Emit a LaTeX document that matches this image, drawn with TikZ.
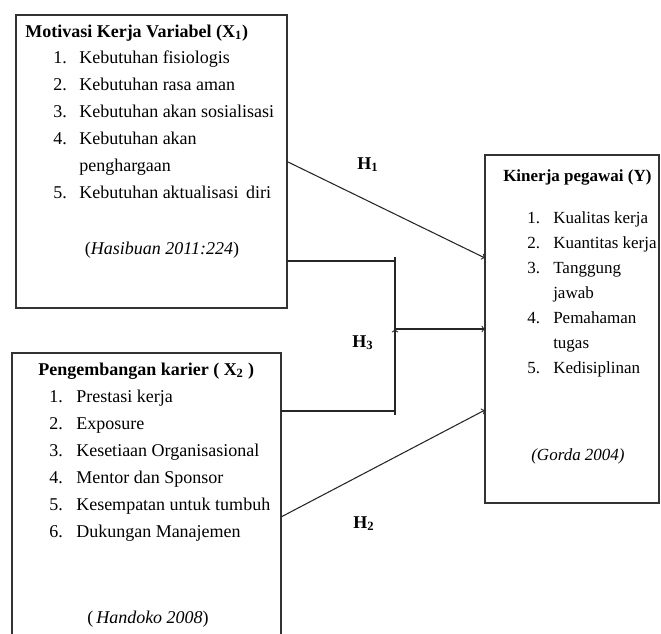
\documentclass[tikz,border=0pt]{standalone}
\usepackage{fontspec}
\setmainfont{Liberation Serif}
\usetikzlibrary{arrows}

\begin{document}
\begin{tikzpicture}[x=0.75pt,y=-0.75pt]
		\useasboundingbox (0,0) rectangle (661,633);
		\clip (0,0) rectangle (661,633);
		\tikzset{
			box/.style={draw=black!80,line width=0.9pt,inner sep=0pt,outer sep=0pt},
			txt/.style={anchor=base west,inner sep=0pt,font=\fontsize{13.5}{16}\selectfont},
			txtsm/.style={anchor=base west,inner sep=0pt,font=\fontsize{12.75}{15}\selectfont},
			cite/.style={anchor=base,inner sep=0pt,font=\fontsize{13.5}{16}\selectfont\itshape},
			hyp/.style={anchor=base west,inner sep=0pt,font=\fontsize{13.5}{16}\selectfont\bfseries}
		}
		% boxes
		\node[box,minimum width=203.25pt,minimum height=219.75pt] (motivasi) at (151.5,161.5) {};
		\node[box,minimum width=201.75pt,minimum height=246pt] (karier) at (146.5,517) {};
		\node[box,minimum width=130.5pt,minimum height=261pt] (kinerja) at (572,329) {};
		%
		% Motivasi kerja (X1)
		\node[txt,font=\fontsize{13.5}{16}\selectfont\bfseries] (m0) at (25,37) {Motivasi Kerja Variabel (X\textsubscript{1})};
		\node[txt] (m1n) at (53,63) {1.};
		\node[txt] (m1) at (79,63) {Kebutuhan fisiologis};
		\node[txt] (m2n) at (53,90) {2.};
		\node[txt] (m2) at (79,90) {Kebutuhan rasa aman};
		\node[txt] (m3n) at (53,117) {3.};
		\node[txt] (m3) at (79,117) {Kebutuhan akan sosialisasi};
		\node[txt] (m4n) at (53,144) {4.};
		\node[txt] (m4) at (79,144) {Kebutuhan akan};
		\node[txt] (m4b) at (79,171) {penghargaan};
		\node[txt] (m5n) at (53,198) {5.};
		\node[txt] (m5) at (79,198) {Kebutuhan aktualisasi\, diri};
		\node[cite] (mc) at (162,254) {\upshape(\itshape Hasibuan 2011:224\upshape)};
		%
		% Pengembangan karier (X2)
		\node[txt,font=\fontsize{13.5}{16}\selectfont\bfseries] (k0) at (38,375) {Pengembangan karier ( X\textsubscript{2} )};
		\node[txt] (k1n) at (49,402) {1.};
		\node[txt] (k1) at (76,402) {Prestasi kerja};
		\node[txt] (k2n) at (49,429) {2.};
		\node[txt] (k2) at (76,429) {Exposure};
		\node[txt] (k3n) at (49,456) {3.};
		\node[txt] (k3) at (76,456) {Kesetiaan Organisasional};
		\node[txt] (k4n) at (49,483) {4.};
		\node[txt] (k4) at (76,483) {Mentor dan Sponsor};
		\node[txt] (k5n) at (49,510) {5.};
		\node[txt] (k5) at (76,510) {Kesempatan untuk tumbuh};
		\node[txt] (k6n) at (49,537) {6.};
		\node[txt] (k6) at (76,537) {Dukungan Manajemen};
		\node[cite] (kc) at (148,623) {\upshape(\,\itshape Handoko 2008\upshape)};
		%
		% Kinerja pegawai (Y)
		\node[txtsm,font=\fontsize{12.75}{15}\selectfont\bfseries] (y0) at (503,181) {Kinerja pegawai (Y)};
		\node[txtsm] (y1n) at (527,223) {1.};
		\node[txtsm] (y1) at (553,223) {Kualitas kerja};
		\node[txtsm] (y2n) at (527,248) {2.};
		\node[txtsm] (y2) at (553,248) {Kuantitas kerja};
		\node[txtsm] (y3n) at (527,273) {3.};
		\node[txtsm] (y3) at (553,273) {Tanggung};
		\node[txtsm] (y3b) at (553,298) {jawab};
		\node[txtsm] (y4n) at (527,323) {4.};
		\node[txtsm] (y4) at (553,323) {Pemahaman};
		\node[txtsm] (y4b) at (553,348) {tugas};
		\node[txtsm] (y5n) at (527,373) {5.};
		\node[txtsm] (y5) at (553,373) {Kedisiplinan};
		\node[cite,font=\fontsize{12.75}{15}\selectfont\itshape] (yc) at (578,460) {(Gorda 2004)};
		%
		% hypothesis labels
		\node[hyp] (h1) at (357,169) {H\textsubscript{1}};
		\node[hyp] (h3) at (352,347) {H\textsubscript{3}};
		\node[hyp] (h2) at (353,528) {H\textsubscript{2}};
		%
		\coordinate (j3top) at (395,261);
		\coordinate (j3bot) at (395,411);
		%
		\path[->,>=to,line width=0.8pt,draw=black!85]
		% direct arrows
		(motivasi.east) edge ([yshift=53.25pt]kinerja.west)
		(karier.east) edge ([yshift=-60.75pt]kinerja.west)
		% joint arrow
		(j3top |- kinerja.west) edge (kinerja.west);
		\draw[line width=0.8pt,draw=black!85]
		(motivasi.east |- j3top) -- (j3top)
		(karier.east |- j3bot) -- (j3bot)
		([yshift=3pt]j3top) -- ([yshift=-3pt]j3bot);
	\end{tikzpicture}
\end{document}
